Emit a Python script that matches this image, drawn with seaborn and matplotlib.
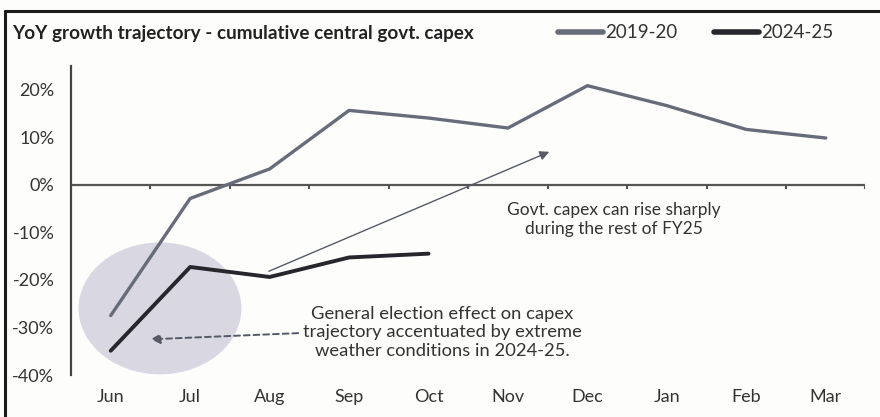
import matplotlib
matplotlib.use("Agg")
import matplotlib.pyplot as plt
from matplotlib.patches import Ellipse
from matplotlib.lines import Line2D
import numpy as np
import pandas as pd
import seaborn as sns

months = ["Jun", "Jul", "Aug", "Sep", "Oct", "Nov", "Dec", "Jan", "Feb", "Mar"]
growth_2019_20 = [-27.5, -2.9, 3.3, 15.6, 14.0, 11.9, 20.8, 16.6, 11.6, 9.8]
growth_2024_25 = [-34.9, -17.3, -19.4, -15.3, -14.5]
series_names = ["2019-20", "2024-25"]
y_ticks = [20, 10, 0, -10, -20, -30, -40]

df = pd.concat([
    pd.DataFrame({"month": months, "growth": growth_2019_20, "year": series_names[0]}),
    pd.DataFrame({"month": months[:len(growth_2024_25)], "growth": growth_2024_25,
                  "year": series_names[1]}),
], ignore_index=True)

sns.set_theme(style="white")
plt.rcParams["font.family"] = ["Lato", "DejaVu Sans"]

fig = plt.figure(figsize=(8.8, 4.17), dpi=100)
fig.patch.set_facecolor("#fdfdfc")
ax = fig.add_axes([0.0807, 0.1007, 0.9028, 0.7418])
ax.set_facecolor("#fdfdfc")

palette = {"2019-20": "#676c7b", "2024-25": "#26262c"}
widths = {"2019-20": 2.4, "2024-25": 2.8}

# highlight region behind the June/July readings
ax.add_patch(Ellipse((0.62, -26.0), 2.05, 27.7, facecolor="#d8d7e2",
                     edgecolor="none", zorder=0))

sns.lineplot(data=df, x="month", y="growth", hue="year", palette=palette,
             ax=ax, legend=False, sort=False)
for line, name in zip(ax.lines, series_names):
    line.set_linewidth(widths[name])
    line.set_solid_capstyle("round")
    line.set_zorder(3)

ax.set_xlim(-0.5, len(months) - 0.5)
ax.set_ylim(-40, 25)
ax.set_yticks(y_ticks)
ax.set_yticklabels([f"{v}%" for v in y_ticks])
ax.set_xlabel("")
ax.set_ylabel("")

for s in ["top", "right", "bottom"]:
    ax.spines[s].set_visible(False)
ax.spines["left"].set_color("#444444")
ax.spines["left"].set_linewidth(1.6)

ax.tick_params(axis="y", length=0, pad=12, labelsize=13, labelcolor="#333333")
ax.tick_params(axis="x", length=0, pad=10, labelsize=13, labelcolor="#333333")

# zero line with category separator ticks
ax.axhline(0, color="#555555", lw=1.6, zorder=2)
bounds = np.arange(0.5, len(months) + 0.5, 1.0)
ax.vlines(bounds, -1.0, 0, color="#555555", lw=1.5, zorder=2)

# thin arrow pointing to expected rise
ax.annotate("", xy=(5.52, 6.9), xytext=(1.99, -18.2),
            arrowprops=dict(arrowstyle="-|>", color="#555a66", lw=1.0,
                            mutation_scale=14, shrinkA=0, shrinkB=0), zorder=4)
ax.text(6.33, -7.3, "Govt. capex can rise sharply\nduring the rest of FY25",
        ha="center", va="center", fontsize=12.5, color="#333333", linespacing=1.2)

# dashed arrow towards the highlighted region
ax.annotate("", xy=(0.50, -32.5), xytext=(2.36, -31.2),
            arrowprops=dict(arrowstyle="-|>", color="#555a66", lw=1.4,
                            linestyle=(0, (3, 2)), mutation_scale=14,
                            shrinkA=0, shrinkB=0), zorder=4)
ax.text(4.17, -31.0,
        "General election effect on capex\ntrajectory accentuated by extreme\nweather conditions in 2024-25.",
        ha="center", va="center", fontsize=13.2, color="#333333", linespacing=1.2)

# title and legend
fig.text(12 / 880, 1 - 33 / 417, "YoY growth trajectory - cumulative central govt. capex",
         ha="left", va="center", fontsize=13.6, fontweight="bold", color="#222222")
handles = [Line2D([], [], color=palette[n], lw=4.0) for n in series_names]
fig.legend(handles, series_names, ncol=2, loc="center left",
           bbox_to_anchor=(549 / 880, 1 - 33 / 417), frameon=False,
           fontsize=13.5, handlelength=2.4, handletextpad=0.1, columnspacing=1.95,
           borderpad=0, labelcolor="#333333")

# frame lines along top and left
fig.add_artist(Line2D([5 / 880, 1.0], [1 - 11 / 417, 1 - 11 / 417],
                      transform=fig.transFigure, color="#1a1a1a", lw=2.2))
fig.add_artist(Line2D([5 / 880, 5 / 880], [0, 1 - 11 / 417],
                      transform=fig.transFigure, color="#1a1a1a", lw=2.2))

fig.savefig("out.png", dpi=100, facecolor=fig.get_facecolor())
